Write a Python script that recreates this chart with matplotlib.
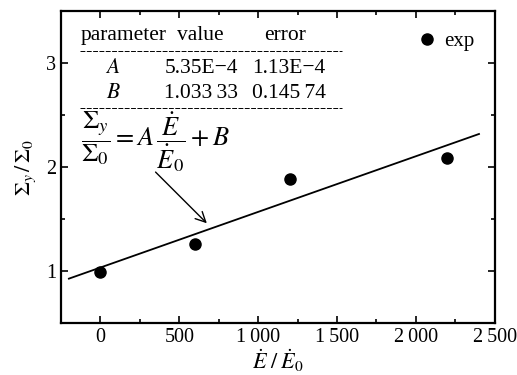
import numpy as np
import matplotlib
matplotlib.use("Agg")
import matplotlib.pyplot as plt
from matplotlib.ticker import MultipleLocator, FuncFormatter

plt.rcParams['font.family'] = ['Liberation Serif', 'DejaVu Serif']
plt.rcParams['mathtext.fontset'] = 'stix'

# experimental points
rate = [0, 600, 1200, 2200]
stress = [0.99, 1.26, 1.88, 2.09]

# linear fit  Sy/S0 = A*E/E0 + B
A = 5.35e-4
B = 1.03333
fit_x = np.array([-200, 2400])
fit_y = A * fit_x + B

params = ['$A$', '$B$']
values = ['5.35E\u22124', '1.033\u200933']
errors = ['1.13E\u22124', '0.145\u200974']

fig = plt.figure(figsize=(5.17, 3.75), dpi=100)
ax = fig.add_axes([0.118, 0.1387, 0.839, 0.832])

ax.plot(fit_x, fit_y, color='black', lw=1.3)
ax.plot(rate, stress, 'o', color='black', ms=8, label='exp')

ax.set_xlim(-250, 2500)
ax.set_ylim(0.5, 3.5)
ax.xaxis.set_major_locator(MultipleLocator(500))
ax.xaxis.set_minor_locator(MultipleLocator(250))
ax.yaxis.set_major_locator(MultipleLocator(1))
ax.yaxis.set_minor_locator(MultipleLocator(0.5))


def thousands(v, pos):
    s = '%d' % v
    if len(s) > 3:
        s = s[:-3] + '\u2009' + s[-3:]
    return s


ax.xaxis.set_major_formatter(FuncFormatter(thousands))
ax.tick_params(which='both', direction='in', top=True, right=True,
               labelsize=14.5, width=1.2)
ax.tick_params(which='major', length=5)
ax.tick_params(which='minor', length=3)
for sp in ax.spines.values():
    sp.set_linewidth(1.6)

ax.set_xlabel(r'$\dot{E}\;/\;\dot{E}_0$', fontsize=16, labelpad=0)
ax.set_ylabel(r'$\mathit{\Sigma}_y\,/\,\mathit{\Sigma}_0$', fontsize=16, labelpad=6)

ax.legend(loc='upper right', frameon=False, fontsize=15, handletextpad=0.3,
          borderaxespad=0.6, handlelength=1.0, numpoints=1)

# parameter table
tr = ax.transAxes
fs = 15.5
ax.text(0.046, 0.92, 'parameter', transform=tr, fontsize=fs, ha='left', va='center')
ax.text(0.322, 0.92, 'value', transform=tr, fontsize=fs, ha='center', va='center')
ax.text(0.516, 0.92, 'error', transform=tr, fontsize=fs, ha='center', va='center')
rows_y = [0.817, 0.737]
for i in range(2):
    ax.text(0.120, rows_y[i], params[i], transform=tr, fontsize=fs, ha='center', va='center')
    ax.text(0.323, rows_y[i], values[i], transform=tr, fontsize=fs, ha='center', va='center')
    ax.text(0.525, rows_y[i], errors[i], transform=tr, fontsize=fs, ha='center', va='center')
for ly in [0.872, 0.689]:
    ax.plot([0.044, 0.647], [ly, ly], transform=tr, color='black', lw=0.7,
            ls=(0, (5, 1.5)))

ax.text(0.046, 0.58,
        r'$\dfrac{\mathit{\Sigma}_y}{\mathit{\Sigma}_0} = A\,\dfrac{\dot{E}}{\dot{E}_0} + B$',
        transform=tr, fontsize=19, ha='left', va='center')

ax.annotate('', xy=(687, 1.44), xytext=(337, 1.97),
            arrowprops=dict(arrowstyle='->', color='black', lw=1.0,
                            mutation_scale=18))

fig.savefig('out.png', dpi=100)
